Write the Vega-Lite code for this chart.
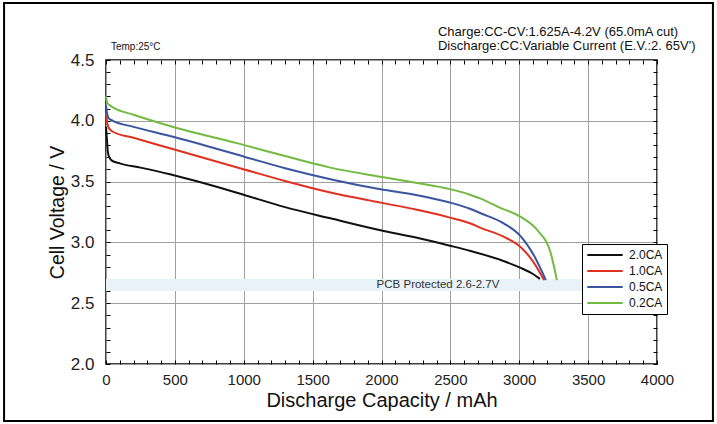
{
  "$schema": "https://vega.github.io/schema/vega-lite/v6.json",
  "width": 551,
  "height": 304,
  "autosize": {"type": "none"},
  "padding": {"left": 106, "top": 60, "right": 60, "bottom": 60},
  "background": "white",
  "config": {
    "font": "Liberation Sans",
    "view": {"stroke": "#000", "strokeWidth": 1.5},
    "axis": {"domainColor": "#000", "tickColor": "#000", "labelColor": "#222", "titleColor": "#111", "labelFont": "Liberation Sans", "titleFont": "Liberation Sans"}
  },
  "datasets": {
    "curves": [
      {"s": "2.0CA", "x": 0, "v": 3.95}, {"s": "2.0CA", "x": 6, "v": 3.86}, {"s": "2.0CA", "x": 12, "v": 3.76}, {"s": "2.0CA", "x": 20, "v": 3.71}, {"s": "2.0CA", "x": 40, "v": 3.675}, {"s": "2.0CA", "x": 100, "v": 3.65}, {"s": "2.0CA", "x": 250, "v": 3.615}, {"s": "2.0CA", "x": 465, "v": 3.56}, {"s": "2.0CA", "x": 700, "v": 3.49}, {"s": "2.0CA", "x": 1004, "v": 3.39}, {"s": "2.0CA", "x": 1300, "v": 3.29}, {"s": "2.0CA", "x": 1629, "v": 3.198}, {"s": "2.0CA", "x": 1993, "v": 3.1}, {"s": "2.0CA", "x": 2250, "v": 3.04}, {"s": "2.0CA", "x": 2490, "v": 2.975}, {"s": "2.0CA", "x": 2647, "v": 2.93}, {"s": "2.0CA", "x": 2890, "v": 2.845}, {"s": "2.0CA", "x": 3011, "v": 2.79}, {"s": "2.0CA", "x": 3100, "v": 2.74}, {"s": "2.0CA", "x": 3150, "v": 2.7},
      {"s": "1.0CA", "x": 0, "v": 4.07}, {"s": "1.0CA", "x": 8, "v": 3.99}, {"s": "1.0CA", "x": 20, "v": 3.94}, {"s": "1.0CA", "x": 50, "v": 3.91}, {"s": "1.0CA", "x": 200, "v": 3.86}, {"s": "1.0CA", "x": 465, "v": 3.774}, {"s": "1.0CA", "x": 1004, "v": 3.6}, {"s": "1.0CA", "x": 1300, "v": 3.505}, {"s": "1.0CA", "x": 1629, "v": 3.41}, {"s": "1.0CA", "x": 1993, "v": 3.327}, {"s": "1.0CA", "x": 2250, "v": 3.27}, {"s": "1.0CA", "x": 2490, "v": 3.206}, {"s": "1.0CA", "x": 2647, "v": 3.155}, {"s": "1.0CA", "x": 2720, "v": 3.12}, {"s": "1.0CA", "x": 2890, "v": 3.045}, {"s": "1.0CA", "x": 3011, "v": 2.96}, {"s": "1.0CA", "x": 3108, "v": 2.83}, {"s": "1.0CA", "x": 3180, "v": 2.69},
      {"s": "0.5CA", "x": 0, "v": 4.13}, {"s": "0.5CA", "x": 8, "v": 4.06}, {"s": "0.5CA", "x": 20, "v": 4.02}, {"s": "0.5CA", "x": 50, "v": 4.0}, {"s": "0.5CA", "x": 200, "v": 3.95}, {"s": "0.5CA", "x": 465, "v": 3.875}, {"s": "0.5CA", "x": 1004, "v": 3.705}, {"s": "0.5CA", "x": 1300, "v": 3.61}, {"s": "0.5CA", "x": 1629, "v": 3.52}, {"s": "0.5CA", "x": 1993, "v": 3.437}, {"s": "0.5CA", "x": 2250, "v": 3.39}, {"s": "0.5CA", "x": 2490, "v": 3.33}, {"s": "0.5CA", "x": 2647, "v": 3.275}, {"s": "0.5CA", "x": 2720, "v": 3.24}, {"s": "0.5CA", "x": 2890, "v": 3.155}, {"s": "0.5CA", "x": 3011, "v": 3.05}, {"s": "0.5CA", "x": 3108, "v": 2.89}, {"s": "0.5CA", "x": 3193, "v": 2.69},
      {"s": "0.2CA", "x": 0, "v": 4.2}, {"s": "0.2CA", "x": 8, "v": 4.15}, {"s": "0.2CA", "x": 25, "v": 4.13}, {"s": "0.2CA", "x": 50, "v": 4.11}, {"s": "0.2CA", "x": 200, "v": 4.05}, {"s": "0.2CA", "x": 465, "v": 3.957}, {"s": "0.2CA", "x": 1004, "v": 3.8}, {"s": "0.2CA", "x": 1300, "v": 3.71}, {"s": "0.2CA", "x": 1629, "v": 3.615}, {"s": "0.2CA", "x": 1993, "v": 3.54}, {"s": "0.2CA", "x": 2250, "v": 3.49}, {"s": "0.2CA", "x": 2490, "v": 3.44}, {"s": "0.2CA", "x": 2647, "v": 3.39}, {"s": "0.2CA", "x": 2720, "v": 3.36}, {"s": "0.2CA", "x": 2850, "v": 3.29}, {"s": "0.2CA", "x": 3011, "v": 3.21}, {"s": "0.2CA", "x": 3132, "v": 3.1}, {"s": "0.2CA", "x": 3229, "v": 2.91}, {"s": "0.2CA", "x": 3273, "v": 2.69}
    ],
    "band": [{"lo": 2.6, "hi": 2.7}]
  },
  "layer": [
    {
      "data": {"name": "band"},
      "mark": {"type": "rect", "fill": "#e8f2f8"},
      "encoding": {
        "x": {"datum": 0, "type": "quantitative", "scale": {"domain": [0, 4000], "nice": false, "zero": false}, "axis": null},
        "x2": {"datum": 4000},
        "y": {"field": "lo", "type": "quantitative", "scale": {"domain": [2, 4.5], "nice": false, "zero": false}, "axis": null},
        "y2": {"field": "hi"}
      }
    },
    {
      "data": {"name": "band"},
      "mark": {"type": "rect", "fill": null, "filled": false, "stroke": "#000", "strokeWidth": 2, "clip": false},
      "encoding": {
        "x": {"datum": -740, "type": "quantitative", "scale": {"domain": [0, 4000], "nice": false, "zero": false}, "axis": null},
        "x2": {"datum": 4406},
        "y": {"datum": 4.969, "type": "quantitative", "scale": {"domain": [2, 4.5], "nice": false, "zero": false}, "axis": null},
        "y2": {"datum": 1.531}
      }
    },
    {
      "data": {"name": "band"},
      "mark": {"type": "text", "fontSize": 13, "color": "#111", "align": "left", "baseline": "top", "dy": -34, "lineHeight": 13.5},
      "encoding": {
        "x": {"datum": 2410, "type": "quantitative", "scale": {"domain": [0, 4000], "nice": false, "zero": false}, "axis": null},
        "y": {"datum": 4.5, "type": "quantitative", "scale": {"domain": [2, 4.5], "nice": false, "zero": false}, "axis": null},
        "text": {"value": ["Charge:CC-CV:1.625A-4.2V (65.0mA cut)", "Discharge:CC:Variable Current (E.V.:2. 65V')"]}
      }
    },
    {
      "data": {"name": "band"},
      "mark": {"type": "text", "fontSize": 11.5, "color": "#333", "align": "center", "baseline": "middle"},
      "encoding": {
        "x": {"datum": 2410, "type": "quantitative", "scale": {"domain": [0, 4000], "nice": false, "zero": false},
          "axis": {"orient": "bottom", "values": [0,100,200,300,400,500,600,700,800,900,1000,1100,1200,1300,1400,1500,1600,1700,1800,1900,2000,2100,2200,2300,2400,2500,2600,2700,2800,2900,3000,3100,3200,3300,3400,3500,3600,3700,3800,3900,4000], "labels": false, "grid": false, "domain": false, "ticks": true, "tickSize": 4, "tickWidth": 1, "offset": -4, "title": null}},
        "y": {"datum": 2.65, "type": "quantitative", "scale": {"domain": [2, 4.5], "nice": false, "zero": false},
          "axis": {"orient": "left", "values": [2,2.1,2.2,2.3,2.4,2.5,2.6,2.7,2.8,2.9,3,3.1,3.2,3.3,3.4,3.5,3.6,3.7,3.8,3.9,4,4.1,4.2,4.3,4.4,4.5], "labels": false, "grid": false, "domain": false, "ticks": true, "tickSize": 4, "tickWidth": 1, "offset": -4, "title": null}},
        "text": {"value": "PCB Protected 2.6-2.7V"}
      }
    },
    {
      "data": {"name": "band"},
      "mark": {"type": "text", "fontSize": 10, "color": "#111", "align": "left", "baseline": "bottom", "dy": -8},
      "encoding": {
        "x": {"datum": 36, "type": "quantitative", "scale": {"domain": [0, 4000], "nice": false, "zero": false},
          "axis": {"orient": "top", "values": [0,100,200,300,400,500,600,700,800,900,1000,1100,1200,1300,1400,1500,1600,1700,1800,1900,2000,2100,2200,2300,2400,2500,2600,2700,2800,2900,3000,3100,3200,3300,3400,3500,3600,3700,3800,3900,4000], "labels": false, "grid": false, "domain": false, "ticks": true, "tickSize": 4, "tickWidth": 1, "offset": -4, "title": null}},
        "y": {"datum": 4.5, "type": "quantitative", "scale": {"domain": [2, 4.5], "nice": false, "zero": false},
          "axis": {"orient": "right", "values": [2,2.1,2.2,2.3,2.4,2.5,2.6,2.7,2.8,2.9,3,3.1,3.2,3.3,3.4,3.5,3.6,3.7,3.8,3.9,4,4.1,4.2,4.3,4.4,4.5], "labels": false, "grid": false, "domain": false, "ticks": true, "tickSize": 4, "tickWidth": 1, "offset": -4, "title": null}},
        "text": {"value": "Temp:25°C"}
      }
    },
    {
      "data": {"name": "curves"},
      "mark": {"type": "line", "strokeWidth": 2, "interpolate": "monotone"},
      "encoding": {
        "x": {"field": "x", "type": "quantitative", "scale": {"domain": [0, 4000], "nice": false, "zero": false},
          "axis": {"orient": "bottom", "values": [0,500,1000,1500,2000,2500,3000,3500,4000], "format": "d", "grid": true, "gridColor": "#a0a0a0", "gridWidth": 1, "ticks": false, "domain": false, "labelFontSize": 15, "labelPadding": 8, "labelFlush": false, "title": "Discharge Capacity / mAh", "titleFontSize": 20, "titleFontWeight": "normal", "titlePadding": 3}},
        "y": {"field": "v", "type": "quantitative", "scale": {"domain": [2, 4.5], "nice": false, "zero": false},
          "axis": {"orient": "left", "values": [2,2.5,3,3.5,4,4.5], "format": ".1f", "grid": true, "gridColor": "#a0a0a0", "gridWidth": 1, "ticks": false, "domain": false, "labelFontSize": 17, "labelPadding": 12, "labelFlush": false, "title": "Cell Voltage / V", "titleFontSize": 19.5, "titleFontWeight": "normal", "titlePadding": 3}},
        "color": {"field": "s", "type": "nominal",
          "scale": {"domain": ["2.0CA", "1.0CA", "0.5CA", "0.2CA"], "range": ["#111111", "#e03020", "#3a55a0", "#72bb40"]},
          "legend": {"orient": "none", "legendX": 476, "legendY": 184, "title": null, "strokeColor": "#000", "fillColor": "#fff", "padding": 4, "cornerRadius": 0, "symbolType": "stroke", "symbolSize": 1250, "symbolStrokeWidth": 2, "labelFontSize": 12, "labelColor": "#111", "labelOffset": 5, "clipHeight": 14, "rowPadding": 2}}
      }
    }
  ],
  "resolve": {"axis": {"x": "independent", "y": "independent"}}
}
